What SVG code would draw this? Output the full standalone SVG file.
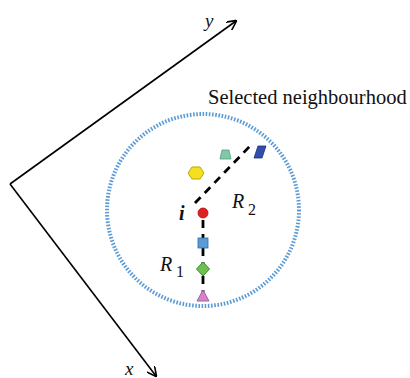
<svg xmlns="http://www.w3.org/2000/svg" width="410" height="378" viewBox="0 0 410 378">
<style>
text{font-family:'Liberation Serif','Times New Roman',serif;fill:#111}
.ax{stroke:#000;stroke-width:1.6;fill:none}
.dash{stroke:#000;stroke-width:2.8;stroke-dasharray:8,6;fill:none}
</style>
<defs>
<marker id="arr" viewBox="0 0 10 10" refX="9" refY="5" markerWidth="10" markerHeight="10" markerUnits="userSpaceOnUse" orient="auto">
<path d="M0,0 L10,5 L0,10" fill="none" stroke="#000" stroke-width="1.6"/>
</marker>
</defs>
<rect width="410" height="378" fill="#fff"/>
<g id="connectors">
<path class="ax" d="M10,184 L236,21" marker-end="url(#arr)"/>
<path class="ax" d="M10,184 L156,376" marker-end="url(#arr)"/>
<path class="dash" d="M203,220 L203,300"/>
<path class="dash" d="M195,203 L251,145"/>
</g>
<g id="neighbourhood">
<circle cx="203" cy="210" r="96" fill="none" stroke="#5b9bd5" stroke-width="4" stroke-dasharray="1.6,1.6"/>
<text x="208" y="104" font-size="20.5" font-family="Liberation Serif, serif">Selected neighbourhood</text>
</g>
<g id="axis-labels">
<text x="205" y="27" font-size="19" font-style="italic" font-family="Liberation Serif, serif">y</text>
<text x="125" y="375" font-size="19" font-style="italic" font-family="Liberation Serif, serif">x</text>
</g>
<g id="node-i">
<circle cx="203" cy="213" r="5" fill="#e02020" stroke="#b01010" stroke-width="0.8"/>
<text x="179" y="220" font-size="20" font-style="italic" font-weight="bold" font-family="Liberation Serif, serif">i</text>
</g>
<g id="node-square">
<rect x="198" y="238" width="10" height="10" fill="#5b9bd5" stroke="#2e6aa8" stroke-width="0.8"/>
</g>
<g id="node-diamond">
<path d="M203,262 L209.5,269 L203,276 L196.5,269 Z" fill="#70c050" stroke="#2e8b2e" stroke-width="1"/>
</g>
<g id="node-triangle">
<path d="M203,290 L209,301 L197,301 Z" fill="#e080c0" stroke="#8c6bb0" stroke-width="1"/>
</g>
<g id="node-hexagon">
<path d="M192,167 L200,167 L204,173 L200,179 L192,179 L188,173 Z" fill="#f5e020" stroke="#b8a800" stroke-width="1"/>
</g>
<g id="node-trapezoid">
<path d="M222,150 L229,150 L231,159 L220,159 Z" fill="#80c8a8" stroke="#50a080" stroke-width="0.8"/>
</g>
<g id="node-parallelogram">
<path d="M258,146 L266,146 L262,158 L254,158 Z" fill="#2f4faa" stroke="#1a2f80" stroke-width="0.8"/>
</g>
<g id="labels">
<text x="232" y="208" font-size="20" font-style="italic" font-family="Liberation Serif, serif">R</text>
<text x="248" y="215" font-size="16" font-family="Liberation Serif, serif">2</text>
<text x="160" y="271" font-size="20" font-style="italic" font-family="Liberation Serif, serif">R</text>
<text x="176" y="277" font-size="16" font-family="Liberation Serif, serif">1</text>
</g>
</svg>
